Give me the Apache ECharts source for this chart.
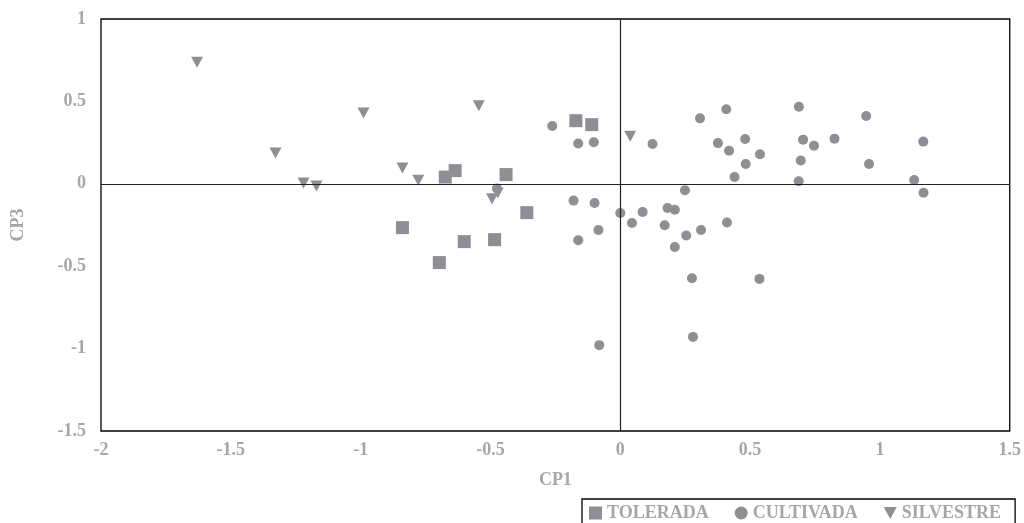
<!DOCTYPE html>
<html>
<head>
<meta charset="utf-8">
<script src="https://cdn.jsdelivr.net/npm/echarts@6/dist/echarts.min.js"></script>
<style>
  html, body { margin: 0; padding: 0; background: #fff; }
  #chart { width: 1024px; height: 523px; }
</style>
</head>
<body>
<div id="chart"></div>
<script>
// puntos [CP1, CP3]
var tolerada = [
  [-0.171, 0.383], [-0.110, 0.359], [-0.636, 0.080], [-0.674, 0.041], [-0.440, 0.056],
  [-0.360, -0.175], [-0.839, -0.266], [-0.601, -0.351], [-0.484, -0.339], [-0.697, -0.478]
]
var cultivada = [
  [-0.262, 0.351], [-0.162, 0.244], [-0.102, 0.252], [0.124, 0.241], [-0.475, -0.029],
  [-0.180, -0.102], [-0.099, -0.116], [0.000, -0.177], [0.086, -0.171], [0.045, -0.238],
  [0.171, -0.252], [0.182, -0.147], [0.210, -0.157], [0.210, -0.383], [-0.084, -0.280],
  [-0.162, -0.343], [-0.081, -0.979], [0.440, 0.041], [0.687, 0.015], [1.132, 0.023],
  [1.168, -0.054], [0.249, -0.039], [0.411, -0.235], [0.311, -0.280], [0.254, -0.314],
  [0.276, -0.573], [0.536, -0.577], [0.280, -0.929], [0.307, 0.397], [0.408, 0.452],
  [0.688, 0.468], [0.947, 0.411], [0.376, 0.247], [0.481, 0.272], [0.419, 0.201],
  [0.538, 0.179], [0.483, 0.120], [0.704, 0.268], [0.746, 0.231], [0.825, 0.274],
  [0.695, 0.141], [0.958, 0.120], [1.167, 0.256]
]
var silvestre = [
  [-1.630, 0.738], [-1.328, 0.187], [-1.220, 0.005], [-1.170, -0.013], [-0.989, 0.429],
  [-0.545, 0.474], [0.038, 0.288], [-0.839, 0.096], [-0.778, 0.021], [-0.494, -0.090],
  [-0.472, -0.056]
]
var nombres = ['TOLERADA', 'CULTIVADA', 'SILVESTRE']

var gris = '#8E8F94'
var texto = '#A6A6A6'
var fuente = 'Liberation Serif'
var triangulo = 'path://M0,0L12,0L6,11Z'

var chart = echarts.init(document.getElementById('chart'))
var option = {
  animation: false,
  textStyle: { fontFamily: fuente },
  grid: {
    left: 101, top: 19, right: 11, bottom: 92,
    show: true, borderColor: '#000', borderWidth: 1.3
  },
  legend: {
    left: 582, top: 499,
    orient: 'horizontal',
    borderColor: '#000', borderWidth: 1.3,
    padding: [5, 14, 8, 7],
    itemWidth: 13, itemHeight: 13, itemGap: 26,
    textStyle: { color: texto, fontSize: 18, fontWeight: 'bold', fontFamily: fuente },
    data: [
      { name: nombres[0], icon: 'rect' },
      { name: nombres[1], icon: 'circle' },
      { name: nombres[2], icon: triangulo }
    ]
  },
  xAxis: {
    type: 'value', min: -2, max: 1.5, interval: 0.5,
    name: 'CP1', nameLocation: 'middle', nameGap: 40,
    nameTextStyle: { color: texto, fontSize: 18, fontWeight: 'bold', fontFamily: fuente },
    axisLine: { show: false },
    axisTick: { show: false },
    splitLine: { show: false },
    axisLabel: { color: texto, fontSize: 18, fontWeight: 'bold', fontFamily: fuente, margin: 10 }
  },
  yAxis: {
    type: 'value', min: -1.5, max: 1, interval: 0.5,
    name: 'CP3', nameLocation: 'middle', nameGap: 74,
    nameTextStyle: { color: texto, fontSize: 18, fontWeight: 'bold', fontFamily: fuente },
    axisLine: { show: false },
    axisTick: { show: false },
    splitLine: { show: false },
    axisLabel: { color: texto, fontSize: 18, fontWeight: 'bold', fontFamily: fuente, margin: 15 }
  },
  series: [
    {
      name: nombres[0], type: 'scatter', symbol: 'rect', symbolSize: 13,
      itemStyle: { color: gris, opacity: 1 },
      data: tolerada,
      markLine: {
        silent: true, symbol: 'none', label: { show: false },
        lineStyle: { color: '#222', width: 1.2, type: 'solid' },
        data: [{ xAxis: 0 }, { yAxis: 0 }]
      }
    },
    {
      name: nombres[1], type: 'scatter', symbol: 'circle', symbolSize: 10,
      itemStyle: { color: gris, opacity: 1 },
      data: cultivada
    },
    {
      name: nombres[2], type: 'scatter', symbol: triangulo, symbolSize: [12, 11],
      itemStyle: { color: gris, opacity: 1 },
      data: silvestre
    }
  ]
}
chart.setOption(option)
</script>
</body>
</html>
